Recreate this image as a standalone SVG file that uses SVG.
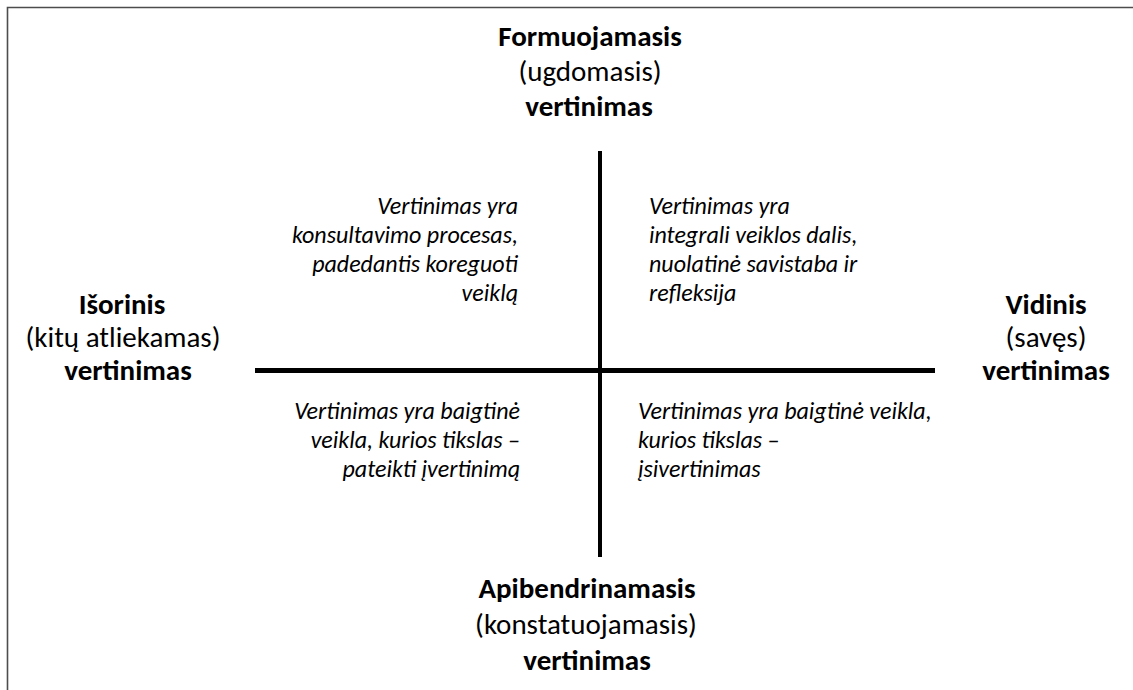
<svg xmlns="http://www.w3.org/2000/svg" width="1133" height="690" viewBox="0 0 1133 690">
<style>
.h{font-family:Carlito,Lato,"Liberation Sans",sans-serif;font-size:29px;fill:#000;text-anchor:middle}
.b{font-weight:bold}
.q{font-family:Carlito,Lato,"Liberation Sans",sans-serif;font-size:24px;font-style:italic;fill:#000}
.r{text-anchor:end}
.ax{stroke:#000;fill:none}
</style>
<rect width="1133" height="690" fill="#fff"/>
<path d="M7.5 690 V7.5 H1133" stroke="#4d4d4d" stroke-width="1.6" fill="none"/>
<g id="connectors">
<line class="ax" x1="255" y1="370.5" x2="935" y2="370.5" stroke-width="5"/>
<line class="ax" x1="600" y1="151" x2="600" y2="557" stroke-width="4"/>
</g>
<g id="top">
<text class="h b" x="590" y="46">Formuojamasis</text>
<text class="h" x="590" y="81">(ugdomasis)</text>
<text class="h b" x="589" y="116">vertinimas</text>
</g>
<g id="bottom">
<text class="h b" x="587" y="598">Apibendrinamasis</text>
<text class="h" x="586" y="634">(konstatuojamasis)</text>
<text class="h b" x="587" y="670">vertinimas</text>
</g>
<g id="left">
<text class="h b" x="122" y="314">Išorinis</text>
<text class="h" x="123" y="347">(kitų atliekamas)</text>
<text class="h b" x="128" y="380">vertinimas</text>
</g>
<g id="right">
<text class="h b" x="1046" y="314">Vidinis</text>
<text class="h" x="1046" y="347">(savęs)</text>
<text class="h b" x="1046" y="380">vertinimas</text>
</g>
<g id="q-top-left">
<text class="q r" x="518" y="214">Vertinimas yra</text>
<text class="q r" x="518" y="243">konsultavimo procesas,</text>
<text class="q r" x="518" y="272">padedantis koreguoti</text>
<text class="q r" x="518" y="301">veiklą</text>
</g>
<g id="q-top-right">
<text class="q" x="649" y="214">Vertinimas yra</text>
<text class="q" x="649" y="243">integrali veiklos dalis,</text>
<text class="q" x="649" y="272">nuolatinė savistaba ir</text>
<text class="q" x="649" y="301">refleksija</text>
</g>
<g id="q-bottom-left">
<text class="q r" x="520" y="419">Vertinimas yra baigtinė</text>
<text class="q r" x="520" y="448">veikla, kurios tikslas –</text>
<text class="q r" x="520" y="477">pateikti įvertinimą</text>
</g>
<g id="q-bottom-right">
<text class="q" x="638" y="419">Vertinimas yra baigtinė veikla,</text>
<text class="q" x="638" y="448">kurios tikslas –</text>
<text class="q" x="638" y="477">įsivertinimas</text>
</g>
</svg>
